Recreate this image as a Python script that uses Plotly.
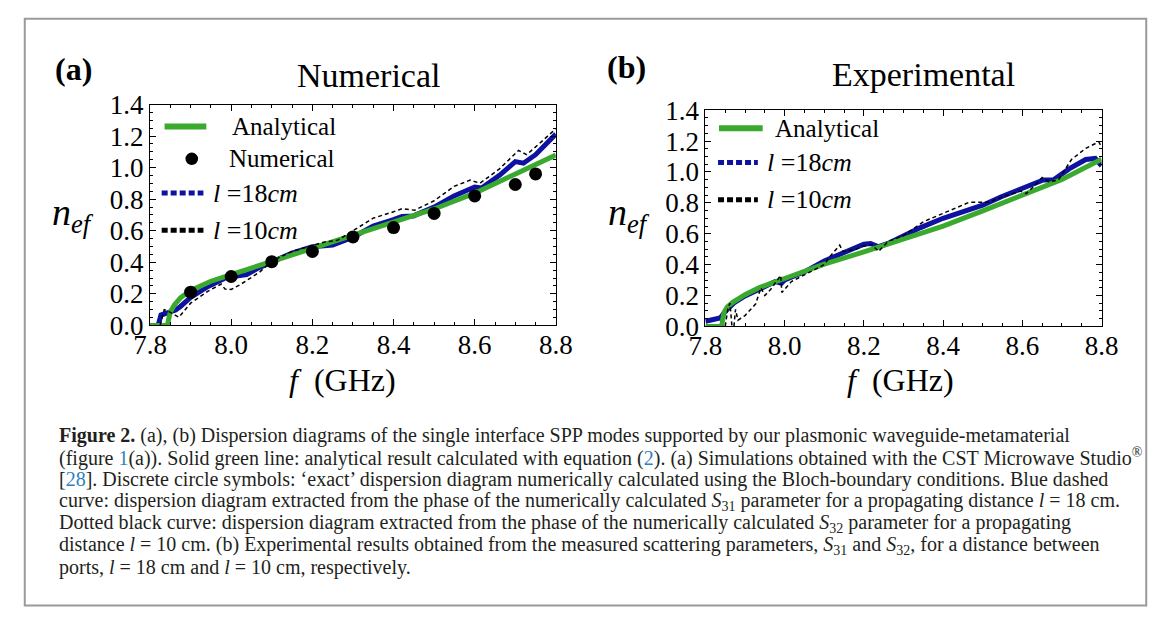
import plotly.graph_objects as go

W, H = 1171, 628

# ---------------- data ----------------
# Panel (a) Numerical
f_num_pts = [7.9, 8.0, 8.1, 8.2, 8.3, 8.4, 8.5, 8.6, 8.7, 8.75]
n_num_pts = [0.211, 0.31, 0.404, 0.469, 0.561, 0.62, 0.71, 0.821, 0.893, 0.96]

f_ana_a = [7.80, 7.843, 7.846, 7.85, 7.86, 7.875, 7.9, 7.95, 8.0, 8.1, 8.2, 8.3, 8.4, 8.5, 8.6, 8.7, 8.8]
n_ana_a = [0.0, 0.0, 0.04, 0.085, 0.13, 0.175, 0.222, 0.28, 0.322, 0.405, 0.487, 0.568, 0.652, 0.738, 0.838, 0.955, 1.08]

f_l18_a = [7.8, 7.82, 7.827, 7.844, 7.863, 7.875, 7.9, 7.943, 7.983, 8.0, 8.038, 8.07, 8.1, 8.15, 8.2, 8.25,
           8.3, 8.35, 8.4, 8.421, 8.449, 8.5, 8.549, 8.6, 8.617, 8.661, 8.7, 8.72, 8.75, 8.8]
n_l18_a = [0.0, 0.0, 0.066, 0.077, 0.097, 0.12, 0.177, 0.247, 0.298, 0.308, 0.322, 0.368, 0.404, 0.459, 0.499, 0.509,
           0.559, 0.63, 0.67, 0.69, 0.694, 0.75, 0.821, 0.877, 0.871, 0.951, 1.038, 1.028, 1.082, 1.213]

f_l10_a = [7.825, 7.835, 7.845, 7.871, 7.9, 7.943, 7.975, 7.985, 8.0, 8.022, 8.07, 8.1, 8.15, 8.2, 8.23, 8.262,
           8.3, 8.35, 8.4, 8.421, 8.452, 8.5, 8.549, 8.589, 8.613, 8.661, 8.708, 8.728, 8.764, 8.8]
n_l10_a = [0.0, 0.10, 0.09, 0.052, 0.141, 0.217, 0.262, 0.23, 0.228, 0.258, 0.338, 0.408, 0.469, 0.509, 0.529, 0.539,
           0.599, 0.68, 0.72, 0.74, 0.73, 0.79, 0.881, 0.921, 0.901, 0.992, 1.109, 1.082, 1.163, 1.247]

# Panel (b) Experimental
f_ana_b = [7.8, 7.841, 7.844, 7.847, 7.855, 7.869, 7.9, 7.935, 8.0, 8.1, 8.2, 8.3, 8.4, 8.5, 8.6, 8.7, 8.8]
n_ana_b = [0.0, 0.0, 0.05, 0.09, 0.125, 0.156, 0.205, 0.25, 0.31, 0.403, 0.482, 0.565, 0.65, 0.748, 0.848, 0.952, 1.083]

f_l18_b = [7.8, 7.837, 7.853, 7.874, 7.9, 7.935, 7.976, 7.992, 8.0, 8.057, 8.1, 8.147, 8.2, 8.217, 8.237, 8.261,
           8.3, 8.343, 8.4, 8.5, 8.547, 8.6, 8.653, 8.678, 8.7, 8.718, 8.76, 8.784, 8.8]
n_l18_b = [0.033, 0.054, 0.105, 0.156, 0.197, 0.239, 0.29, 0.28, 0.30, 0.362, 0.424, 0.475, 0.532, 0.537, 0.516, 0.537,
           0.585, 0.64, 0.70, 0.785, 0.84, 0.895, 0.948, 0.948, 0.985, 1.02, 1.081, 1.088, 1.04]

f_l10_b = [7.85, 7.857, 7.862, 7.867, 7.872, 7.876, 7.882, 7.9, 7.927, 7.94, 7.95, 7.965, 7.99, 7.993, 8.017, 8.057,
           8.1, 8.115, 8.139, 8.147, 8.18, 8.2, 8.22, 8.237, 8.261, 8.3, 8.352, 8.4, 8.466, 8.515, 8.55, 8.596,
           8.61, 8.633, 8.65, 8.667, 8.691, 8.724, 8.76, 8.793, 8.8]
n_l10_b = [0.0, 0.12, 0.15, 0.0, 0.0, 0.11, 0.04, 0.07, 0.146, 0.25, 0.2, 0.24, 0.33, 0.22, 0.29, 0.341,
           0.40, 0.455, 0.526, 0.485, 0.50, 0.52, 0.53, 0.485, 0.55, 0.588, 0.68, 0.732, 0.804, 0.804, 0.84, 0.876,
           0.86, 0.917, 0.964, 0.937, 0.948, 1.081, 1.153, 1.195, 1.164]

x_ticks = [7.8, 8.0, 8.2, 8.4, 8.6, 8.8]
y_ticks = [0.0, 0.2, 0.4, 0.6, 0.8, 1.0, 1.2, 1.4]

GREEN = "rgb(58,170,46)"
BLUE = "rgb(14,18,160)"
BLACK = "black"
SERIF = "Liberation Serif"

# ---------------- figure ----------------
fig = go.Figure()

def add_panel(xa, ya, fa, na, f18, n18, f10, n10):
    fig.add_trace(go.Scatter(x=f18, y=n18, mode="lines", line=dict(color=BLUE, width=5),
                             xaxis=xa, yaxis=ya, showlegend=False))
    fig.add_trace(go.Scatter(x=fa, y=na, mode="lines", line=dict(color=GREEN, width=5),
                             xaxis=xa, yaxis=ya, showlegend=False))
    fig.add_trace(go.Scatter(x=f10, y=n10, mode="lines", line=dict(color=BLACK, width=1.5, dash="4px,3px"),
                             xaxis=xa, yaxis=ya, showlegend=False))

add_panel("x", "y", f_ana_a, n_ana_a, f_l18_a, n_l18_a, f_l10_a, n_l10_a)
fig.add_trace(go.Scatter(x=f_num_pts, y=n_num_pts, mode="markers",
                         marker=dict(color="black", size=13), xaxis="x", yaxis="y", showlegend=False))
add_panel("x2", "y2", f_ana_b, n_ana_b, f_l18_b, n_l18_b, f_l10_b, n_l10_b)

def X(p):
    return p / W

def Y(p):
    return 1 - p / H

axis_common = dict(showline=True, linecolor="black", linewidth=1, mirror="allticks",
                   ticks="inside", ticklen=6, tickcolor="black", tickwidth=1,
                   showgrid=False, zeroline=False,
                   tickfont=dict(family=SERIF, size=27, color="black"),
                   minor=dict(ticks="inside", ticklen=3, tickcolor="black", tickwidth=1, showgrid=False))

xa = dict(axis_common, range=[7.8, 8.8], tickvals=x_ticks, ticktext=[f"{v:.1f}" for v in x_ticks],
          ticklabelstandoff=-5)
xa["minor"] = dict(axis_common["minor"], dtick=0.05, tick0=7.8)
ya = dict(axis_common, range=[0, 1.4], tickvals=y_ticks, ticktext=[f"{v:.1f}" for v in y_ticks])
ya["minor"] = dict(axis_common["minor"], dtick=0.05, tick0=0)

fig.update_layout(
    width=W, height=H, margin=dict(l=0, r=0, t=0, b=0),
    paper_bgcolor="white", plot_bgcolor="white", showlegend=False,
    xaxis=dict(xa, domain=[X(137), X(555)], anchor="y"),
    yaxis=dict(ya, domain=[Y(326), Y(94)], anchor="x"),
    xaxis2=dict(xa, domain=[X(709), X(1117)], anchor="y2"),
    yaxis2=dict(ya, domain=[Y(327), Y(100)], anchor="x2"),
)

ann = []
shapes = []

def text(x, y, s, size, xanchor="center", family=SERIF, color="black"):
    ann.append(dict(x=X(x), y=Y(y), xref="paper", yref="paper", text=s, showarrow=False,
                    xanchor=xanchor, yanchor="middle", font=dict(family=family, size=size, color=color)))

# panel labels and titles
text(58, 57, "<b>(a)</b>", 32)
text(628, 55, "<b>(b)</b>", 32)
text(363, 64, "Numerical", 34)
text(934, 62, "Experimental", 34)
# axis titles
text(58, 210, "<i>n</i><sub><i>ef</i></sub>", 38)
text(630, 210, "<i>n</i><sub><i>ef</i></sub>", 38)
text(335, 383, "<i>f</i>  (GHz)", 32)
text(910, 383, "<i>f</i>  (GHz)", 32)

# legends (manual)
def lsample(x0, x1, y, color, width, dash="solid"):
    shapes.append(dict(type="line", xref="paper", yref="paper", x0=X(x0), x1=X(x1), y0=Y(y), y1=Y(y),
                       line=dict(color=color, width=width, dash=dash)))

lsample(152, 195, 117, GREEN, 6)
text(219, 117, "Analytical", 25, "left")
shapes.append(dict(type="circle", xref="paper", yref="paper", x0=X(173.5), x1=X(186.5), y0=Y(157.5), y1=Y(144.5),
                   fillcolor="black", line=dict(color="black", width=0)))
text(216, 151, "Numerical", 25, "left")
lsample(149, 192, 187, BLUE, 5, "6px,3px")
text(200, 187, "<i>l</i> =18<i>cm</i>", 26, "left")
lsample(149, 192, 226, BLACK, 5, "6px,3px")
text(200, 226, "<i>l</i> =10<i>cm</i>", 26, "left")

lsample(723, 768, 119, GREEN, 6)
text(779, 119, "Analytical", 25, "left")
lsample(722, 763, 155, BLUE, 5, "6px,3px")
text(770, 155, "<i>l</i> =18<i>cm</i>", 26, "left")
lsample(722, 763, 194, BLACK, 5, "6px,3px")
text(770, 194, "<i>l</i> =10<i>cm</i>", 26, "left")

# outer border
shapes.append(dict(type="rect", xref="paper", yref="paper", x0=X(8), x1=X(1163), y0=Y(4), y1=Y(620),
                   line=dict(color="#9a9a9a", width=2), fillcolor="rgba(0,0,0,0)", layer="below"))

# caption
LINK = "#2f7fc1"
caption_lines = [
    "<b>Figure 2.</b> (a), (b) Dispersion diagrams of the single interface SPP modes supported by our plasmonic waveguide-metamaterial",
    f"(figure <span style='color:{LINK}'>1</span>(a)). Solid green line: analytical result calculated with equation (<span style='color:{LINK}'>2</span>). (a) Simulations obtained with the CST Microwave Studio<sup>®</sup>",
    f"[<span style='color:{LINK}'>28</span>]. Discrete circle symbols: ‘exact’ dispersion diagram numerically calculated using the Bloch-boundary conditions. Blue dashed",
    "curve: dispersion diagram extracted from the phase of the numerically calculated <i>S</i><sub>31</sub> parameter for a propagating distance <i>l</i> = 18 cm.",
    "Dotted black curve: dispersion diagram extracted from the phase of the numerically calculated <i>S</i><sub>32</sub> parameter for a propagating",
    "distance <i>l</i> = 10 cm. (b) Experimental results obtained from the measured scattering parameters, <i>S</i><sub>31</sub> and <i>S</i><sub>32</sub>, for a distance between",
    "ports, <i>l</i> = 18 cm and <i>l</i> = 10 cm, respectively.",
]
for i, line in enumerate(caption_lines):
    text(41, 442 + 23 * i, line, 20, "left", color="#231f20")

fig.update_layout(annotations=ann, shapes=shapes)
fig.write_html("out.html")
